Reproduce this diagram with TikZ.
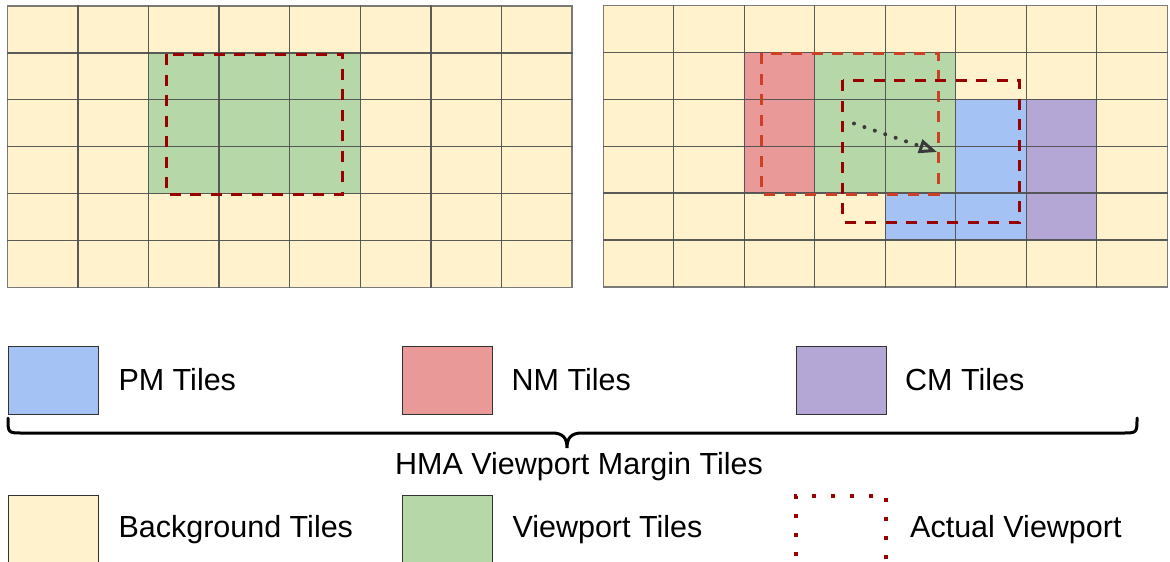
\documentclass[tikz,border=0pt]{standalone}
\usepackage{fontspec}
\setmainfont{Liberation Sans}
\usetikzlibrary{arrows.meta}
\definecolor{bgtile}{HTML}{FFF2CC}
\definecolor{vptile}{HTML}{B6D7A8}
\definecolor{nmtile}{HTML}{EA9999}
\definecolor{pmtile}{HTML}{A4C2F4}
\definecolor{cmtile}{HTML}{B4A7D6}
\definecolor{vpred}{HTML}{990000}
\definecolor{oldvp}{HTML}{CC4125}
\definecolor{gridline}{HTML}{505050}
\definecolor{moveline}{HTML}{3A3A3A}
\tikzset{
  gridcell/.style={draw=gridline, draw opacity=0.75, line width=1.3pt},
  vpframe/.style={draw=vpred, line width=3pt, dash pattern=on 11pt off 9.5pt},
  oldframe/.style={draw=oldvp, line width=3pt, dash pattern=on 11pt off 9.5pt},
  legendbox/.style={draw=black!80, line width=1pt, minimum width=90pt, minimum height=68pt, inner sep=0pt, anchor=north west},
  legendtext/.style={anchor=base west, inner sep=0pt, font=\fontsize{30.5}{36}\selectfont},
  bracestyle/.style={draw=black, line width=3pt},
}
\begin{document}
\begin{tikzpicture}[x=1pt,y=-1pt]
\useasboundingbox (0,0) rectangle (1170,562);
\fill[white] (0,0) rectangle (1170,562);

% ---- left map: viewport only ----
\fill[bgtile] (7.3,6) rectangle (572,287.4);
\fill[vptile] (148.5,52.9) rectangle (360.3,193.6);
\foreach \c in {0,...,7} \foreach \r in {0,...,5}
  \draw[gridcell] (7.3+\c*70.6,6+\r*46.9) rectangle ++(70.6,46.9);
\draw[vpframe] (166,54.3) rectangle (342.7,194);

% ---- right map: viewport with margin tiles ----
\fill[bgtile] (603.3,5.5) rectangle (1167.3,286.9);
\fill[nmtile] (744.3,52.4) rectangle (814.8,193.1);
\fill[vptile] (814.8,52.4) rectangle (955.8,193.1);
\fill[pmtile] (955.8,99.3) rectangle (1026.3,240);
\fill[pmtile] (885.3,193.1) rectangle (955.8,240);
\fill[cmtile] (1026.3,99.3) rectangle (1096.8,240);
\foreach \c in {0,...,7} \foreach \r in {0,...,5}
  \draw[gridcell] (603.3+\c*70.5,5.5+\r*46.9) rectangle ++(70.5,46.9);
\draw[oldframe] (761.7,53.3) rectangle (938.3,194.3);
\draw[vpframe] (842.7,80.3) rectangle (1019.3,222);

% viewport movement
\coordinate (movefrom) at (854,123.5);
\coordinate (moveto) at (937,152);
\draw[moveline, line width=4pt, line cap=round, dash pattern=on 0pt off 11pt,
  -{Triangle[open, length=18pt, width=14pt, line width=3pt, sep=0pt]}]
  (movefrom) -- (moveto);

% ---- legend ----
\node[legendbox, fill=pmtile] (pmbox) at (8,346) {};
\node[legendtext] (pmtext) at (118.3,390) {PM Tiles};
\node[legendbox, fill=nmtile] (nmbox) at (402,346) {};
\node[legendtext] (nmtext) at (511.5,390) {NM Tiles};
\node[legendbox, fill=cmtile] (cmbox) at (796,346) {};
\node[legendtext] (cmtext) at (905,390) {CM Tiles};

% brace grouping the margin tiles
\coordinate (braceL) at (8,418);
\coordinate (braceR) at (1137,418);
\coordinate (braceM) at (567,448);
\draw[bracestyle, line cap=round] (braceL) .. controls (8,433) .. (23,433) -- (552,433)
  .. controls (563,433) and (567,438) .. (braceM)
  .. controls (567,438) and (571,433) .. (582,433) -- (1122,433)
  .. controls (1137,433) .. (braceR);
\node[anchor=base, inner sep=0pt, font=\fontsize{30.5}{36}\selectfont] (hmatext) at (579,474) {HMA Viewport Margin Tiles};

\node[legendbox, fill=bgtile] (bgbox) at (8,494.5) {};
\node[legendtext] (bgtext) at (118.3,537.3) {Background Tiles};
\node[legendbox, fill=vptile] (vpbox) at (402,494.5) {};
\node[legendtext] (vptext) at (512.3,537.3) {Viewport Tiles};
\node[legendbox, draw=vpred, line width=4pt, dash pattern=on 4pt off 15pt] (avbox) at (794.3,494.3) {};
\node[legendtext] (avtext) at (910,537.3) {Actual Viewport};
\end{tikzpicture}
\end{document}
